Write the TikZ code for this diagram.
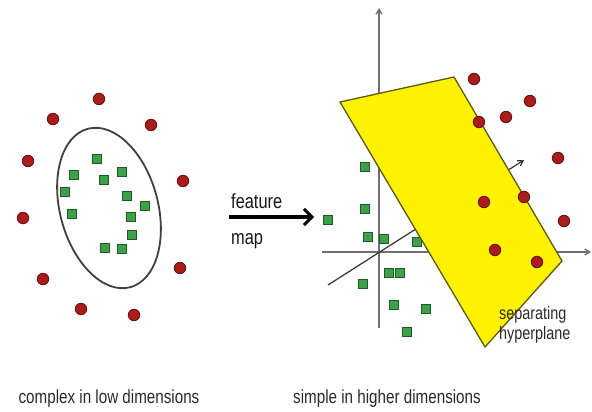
\documentclass[tikz,border=0pt]{standalone}
\usepackage{fontspec}
\setmainfont{Liberation Sans}[FakeStretch=0.8]
\usetikzlibrary{arrows.meta}
\definecolor{dotred}{HTML}{A81C1C}
\definecolor{dotedge}{HTML}{6B0E0E}
\definecolor{sqgreen}{HTML}{3DA04A}
\definecolor{sqedge}{HTML}{1E5A28}
\definecolor{planeedge}{HTML}{5A5A10}
\definecolor{axisgray}{HTML}{707070}
\definecolor{txtgray}{HTML}{2A2A2A}
\tikzset{
  reddot/.style={circle, fill=dotred, draw=dotedge, line width=0.8pt, minimum size=11.5pt, inner sep=0pt},
  greensq/.style={rectangle, fill=sqgreen, draw=sqedge, line width=0.9pt, minimum size=8.5pt, inner sep=0pt},
  axisline/.style={draw=axisgray, line width=1.3pt, -{Straight Barb[length=5pt,width=6pt]}},
  diagaxis/.style={draw=black!80, line width=1.2pt, -{Straight Barb[length=5pt,width=6pt]}},
  bigarrow/.style={draw=black, line width=4pt, -{Straight Barb[length=8pt,width=16pt,line width=3pt]}},
  caption/.style={font=\fontsize{19}{22}\selectfont, text=txtgray, inner sep=0pt},
  label/.style={font=\fontsize{20.5}{23}\selectfont, text=black!90, inner sep=0pt, anchor=base west},
  hyptext/.style={font=\fontsize{18}{20}\selectfont, text=txtgray, inner sep=0pt, align=left, anchor=north west},
}
\begin{document}
\begin{tikzpicture}[x=1pt,y=-1pt]
\useasboundingbox (0,0) rectangle (592,412);
\fill[white] (0,0) rectangle (592,412);

% ---------- left panel ----------
\draw[draw=black!75, line width=1.8pt, rotate around={105:(109,208)}] (109,208) ellipse [x radius=82, y radius=49];

\foreach \n/\x/\y in {l1/99/99, l2/53/119, l3/151/125, l4/28/161, l5/183/181, l6/23/218, l7/180/268, l8/43/279, l9/81/309, l10/134/315}
  \node[reddot] (\n) at (\x,\y) {};
\foreach \n/\x/\y in {g1/97/159, g2/74/175, g3/104/180, g4/122/172, g5/65/192, g6/127/196, g7/145/206, g8/72/214, g9/131/217, g10/132/235, g11/105/248, g12/122/249}
  \node[greensq] (\n) at (\x,\y) {};

% ---------- feature map ----------
\node[label] (feat) at (231,208) {feature};
\node[label] (map) at (231,244) {map};
\coordinate (arrS) at (229,217);
\coordinate (arrE) at (314,217);
\draw[bigarrow] (arrS) -- (arrE);

% ---------- right panel: axes ----------
\coordinate (O) at (379,252);
\coordinate (ytop) at (379,8);
\coordinate (ybot) at (379,328);
\coordinate (xleft) at (322,252);
\coordinate (xright) at (591,252);
\coordinate (dlow) at (328,285);
\coordinate (dhigh) at (524,160);
\draw[axisline] (ybot) -- (ytop);
\draw[axisline] (xleft) -- (xright);
\draw[diagaxis] (dlow) -- (dhigh);

% green squares
\foreach \n/\x/\y in {r1/365/167, r2/365/209, r3/328/220, r4/368/237, r5/384/239, r6/417/242, r7/389/273, r8/400/273, r9/363/284, r10/394/305, r11/426/309, r12/407/332}
  \node[greensq] (\n) at (\x,\y) {};

% plane
\coordinate (p1) at (340,102);
\coordinate (p2) at (454,77);
\coordinate (p3) at (562,261);
\coordinate (p4) at (485,347);
\filldraw[fill=yellow, draw=planeedge, line width=1.3pt, line join=round] (p1) -- (p2) -- (p3) -- (p4) -- cycle;

% red dots
\foreach \n/\x/\y in {d1/474/79, d2/530/101, d3/479/122, d4/506/117, d5/558/158, d6/484/202, d7/524/197, d8/564/221, d9/495/250, d10/537/262}
  \node[reddot] (\n) at (\x,\y) {};

\node[hyptext] (hyp) at (499,306) {separating\\hyperplane};

% captions
\node[caption, anchor=base] (capL) at (109,403) {complex in low dimensions};
\node[caption, anchor=base] (capR) at (387,403) {simple in higher dimensions};
\end{tikzpicture}
\end{document}
